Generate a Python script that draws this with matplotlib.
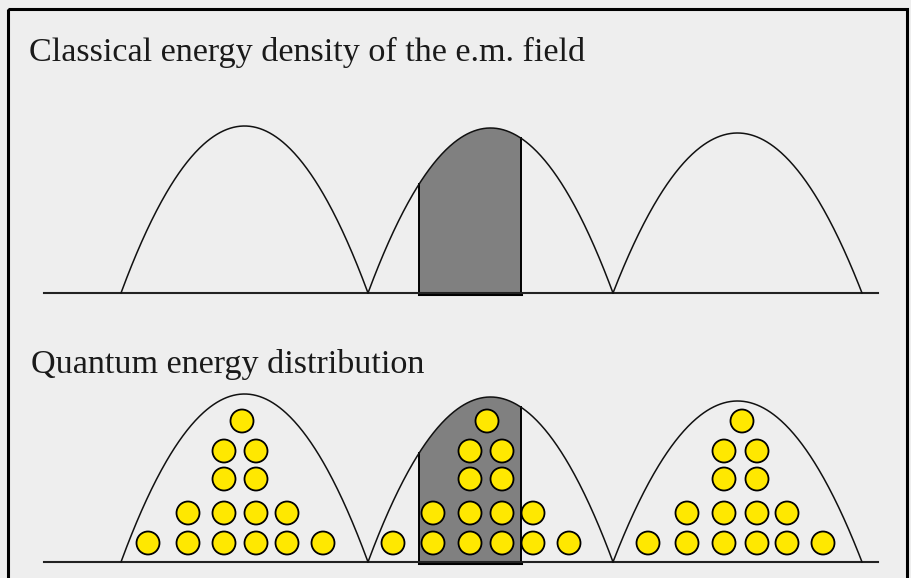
import matplotlib
matplotlib.use("Agg")
import matplotlib.pyplot as plt
import numpy as np
from matplotlib.patches import Rectangle, Circle, Polygon

W, H = 912, 578

# panel titles
titles = ["Classical energy density of the e.m. field", "Quantum energy distribution"]

# arches (pixel coords of the diagram)
arch_left = [121, 368, 613]
arch_right = [368, 613, 862]
peak_top = [167, 165, 160]      # arch heights, classical panel
peak_bottom = [168, 165, 161]   # arch heights, quantum panel
baselines = [293, 562]
band = [419, 521]               # shaded slice under the middle arch

# quanta: column x per arch, rows use a slice of columns
col_x = [
    [148, 188, 224, 256, 287, 323],
    [393, 433, 470, 502, 533, 569],
    [648, 687, 724, 757, 787, 823],
]
top_x = [242, 487, 742]
row_heights = [19, 49, 83, 111, 141]   # centre height above baseline
row_cols = [(0, 6), (1, 5), (2, 4), (2, 4)]


def arch(x, i, heights):
    l, r = arch_left[i], arch_right[i]
    u = (x - l) / (r - l)
    return 4 * heights[i] * u * (1 - u)


fig = plt.figure(figsize=(W / 100, H / 100), dpi=100)
fig.patch.set_facecolor("#eeeeee")
ax = fig.add_axes([0, 0, 1, 1])
ax.set_xlim(0, W)
ax.set_ylim(H, 0)
ax.axis("off")

# frame (bottom edge cut off by the image)
ax.add_patch(Rectangle((8, 9), 899, 600, fill=False, ec="black", lw=2.2))

plt.rcParams["font.family"] = ["Liberation Serif", "DejaVu Serif"]
ax.text(29, 61, titles[0], fontsize=24.6, color="#1a1a1a", va="baseline", ha="left")
ax.text(31, 373, titles[1], fontsize=24.6, color="#1a1a1a", va="baseline", ha="left")

for base, heights in zip(baselines, [peak_top, peak_bottom]):
    # shaded slice
    xs = np.linspace(band[0], band[1], 60)
    ys = base - arch(xs, 1, heights)
    pts = np.column_stack([np.r_[band[0], xs, band[1]], np.r_[base + 1, ys, base + 1]])
    ax.add_patch(Polygon(pts, closed=True, fc="#808080", ec="none"))
    ax.plot([band[0], band[0], band[1], band[1]],
            [ys[0], base + 1, base + 1, ys[-1]], color="black", lw=1.4)
    ax.plot([band[0], band[1]], [base + 1, base + 1], color="black", lw=2.2)

    # baseline
    ax.plot([44, 878], [base, base], color="#222222", lw=1.5)

    # arches
    for i in range(3):
        xs = np.linspace(arch_left[i], arch_right[i], 300)
        ax.plot(xs, base - arch(xs, i, heights), color="#111111", lw=1.1)

# quanta in the lower panel
base = baselines[1]
for i in range(3):
    for r, (a, b) in enumerate(row_cols):
        for x in col_x[i][a:b]:
            ax.add_patch(Circle((x, base - row_heights[r]), 11.5, fc="#ffe800", ec="black", lw=1.3))
    ax.add_patch(Circle((top_x[i], base - row_heights[4]), 11.5, fc="#ffe800", ec="black", lw=1.3))

fig.savefig("out.png", dpi=100, facecolor=fig.get_facecolor())
